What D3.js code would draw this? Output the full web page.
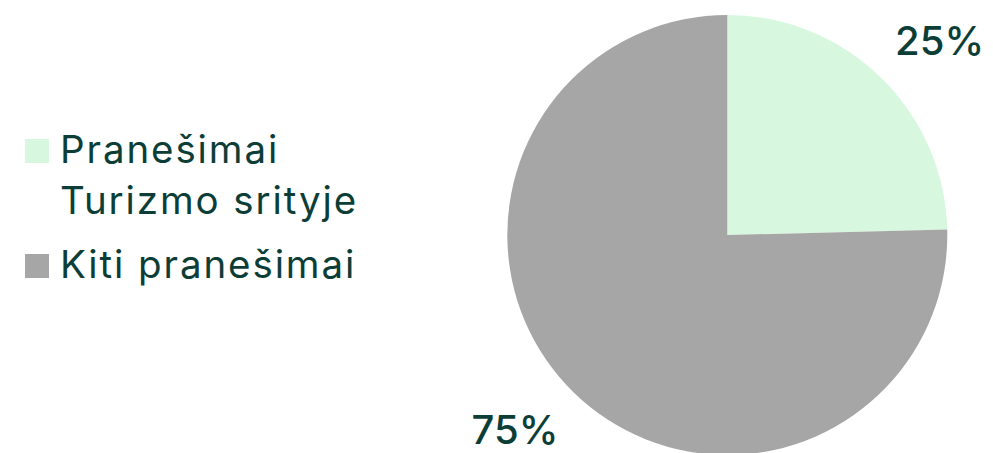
<!DOCTYPE html>
<html>
<head>
<meta charset="utf-8">
<script src="https://cdn.jsdelivr.net/npm/d3@7"></script>
<style>
  html, body { margin: 0; padding: 0; background: #ffffff; }
  svg { display: block; }
  text { font-family: Inter, "Noto Sans", sans-serif; }
</style>
</head>
<body>
<svg id="chart" width="993" height="453"></svg>
<script>
const categories = ["Pranešimai Turizmo srityje", "Kiti pranešimai"];
const legendLines = [["Pranešimai", "Turizmo srityje"], ["Kiti pranešimai"]];
const values = [24.6, 75.4];
const valueLabels = ["25%", "75%"];
const colors = ["#d7f7de", "#a6a6a6"];

const svg = d3.select("#chart");
const textColor = "#0c3e37";

const cx = 727.3, cy = 235, R = 220;
const g = svg.append("g").attr("transform", `translate(${cx},${cy})`);

const pie = d3.pie().sort(null).value(d => d)(values);
const arc = d3.arc().innerRadius(0).outerRadius(R);

g.selectAll("path.slice")
  .data(pie)
  .join("path")
  .attr("class", "slice")
  .attr("d", arc)
  .attr("fill", (d, i) => colors[i]);

const labelR = 288;
const angleShift = 3.2 * Math.PI / 180;
const labelArc = d3.arc().innerRadius(labelR).outerRadius(labelR);
g.selectAll("text.vlabel")
  .data(pie)
  .join("text")
  .attr("class", "vlabel")
  .attr("transform", d => {
    const c = labelArc.centroid({startAngle: d.startAngle + angleShift, endAngle: d.endAngle + angleShift});
    return `translate(${c[0]},${c[1]})`;
  })
  .attr("text-anchor", "middle")
  .attr("dominant-baseline", "central")
  .attr("font-size", 40)
  .attr("font-weight", 500)
  .attr("fill", textColor)
  .text((d, i) => valueLabels[i]);

// Legend
const legendY = [163, 278];
const lg = svg.append("g");
legendLines.forEach((lines, i) => {
  lg.append("rect")
    .attr("x", 25).attr("y", legendY[i] - 24)
    .attr("width", 24).attr("height", 24)
    .attr("fill", colors[i]);
  const t = lg.append("text")
    .attr("x", 60).attr("y", legendY[i])
    .attr("font-size", 38.5)
    .attr("letter-spacing", 1.9)
    .attr("fill", textColor);
  lines.forEach((line, j) => {
    t.append("tspan").attr("x", 60).attr("dy", j === 0 ? 0 : 51).text(line);
  });
});
</script>
</body>
</html>
